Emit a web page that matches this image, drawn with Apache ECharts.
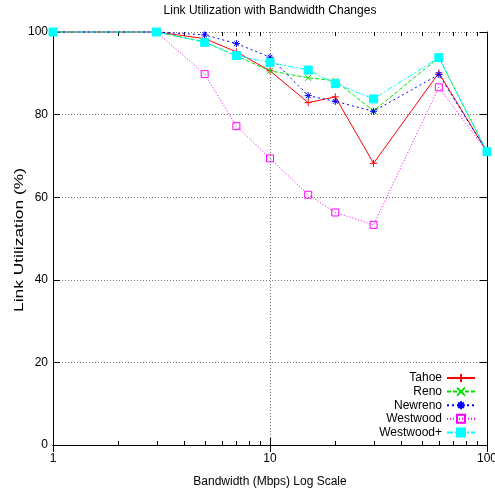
<!DOCTYPE html>
<html>
<head>
<meta charset="utf-8">
<script src="https://cdn.jsdelivr.net/npm/echarts@6/dist/echarts.min.js"></script>
<style>
  html, body { margin: 0; padding: 0; background: #fff; }
  #chart { width: 495px; height: 493px; }
</style>
</head>
<body>
<div id="chart"></div>
<script>
// Bandwidth steps (Mbps) and measured link utilization (%) per TCP variant
const bandwidth = [1, 3, 5, 7, 10, 15, 20, 30, 60, 100];
const tahoe     = [100, 100, 98.4, 95.2, 90.6, 82.9, 84.3, 68.2, 90.1, 71.0];
const reno      = [100, 100, 97.6, 94.2, 90.6, 88.9, 88.2, 80.9, 93.8, 71.0];
const newreno   = [100, 100, 99.3, 97.2, 93.9, 84.6, 83.2, 80.8, 89.7, 71.0];
const westwood  = [100, 100, 89.8, 77.2, 69.4, 60.6, 56.3, 53.3, 86.6, 71.0];
const westwoodP = [100, 100, 97.5, 94.3, 92.6, 90.8, 87.5, 83.8, 93.8, 71.0];

const seriesNames = ['Tahoe', 'Reno', 'Newreno', 'Westwood', 'Westwood+'];
const xMinorTicks = [2, 3, 4, 5, 6, 7, 8, 9, 20, 30, 40, 50, 60, 70, 80, 90];
const yAxisTitle = 'Link Utilization (%)';

const FONT = '"Liberation Sans Narrow", "Liberation Sans", Arial, sans-serif';

// gnuplot-style point shapes
const PLUS     = 'path://M0,5L10,5M5,0L5,10';
const CROSS    = 'path://M0,0L10,10M0,10L10,0';
const STAR     = 'path://M0,5L10,5M5,0L5,10M1.5,1.5L8.5,8.5M1.5,8.5L8.5,1.5';
const OPEN_BOX = 'path://M0,0L10,0L10,10L0,10Z';

const pairs = (ys) => bandwidth.map((x, i) => [x, ys[i]]);

function lineSeries(name, ys, color, dash, symbol, size, fill) {
  return {
    name: name,
    type: 'line',
    data: pairs(ys),
    xAxisIndex: 0,
    yAxisIndex: 0,
    clip: false,
    symbol: symbol,
    symbolSize: size,
    showAllSymbol: true,
    lineStyle: { color: color, width: 1, type: dash },
    itemStyle: { color: fill, borderColor: color, borderWidth: 1 },
    emphasis: { disabled: true },
    animation: false
  };
}

const axisLineStyle = { show: true, lineStyle: { color: '#000', width: 1 } };
const gridLineStyle = { show: true, lineStyle: { color: '#777', width: 1, type: [1, 2] } };

const chart = echarts.init(document.getElementById('chart'), null, { renderer: 'canvas' });

chart.setOption({
  animation: false,
  backgroundColor: '#fff',
  title: {
    text: 'Link Utilization with Bandwidth Changes',
    left: 270,
    top: 5,
    textAlign: 'center',
    padding: 0,
    textStyle: { fontFamily: FONT, fontSize: 12, fontWeight: 'normal', color: '#000' }
  },
  // rotated y-axis title, stretched along its baseline
  graphic: [{
    type: 'text',
    x: 20,
    y: 240,
    rotation: Math.PI / 2,
    scaleX: 1.45,
    silent: true,
    style: {
      text: yAxisTitle,
      fontFamily: '"Liberation Sans", Arial, sans-serif',
      fontSize: 12,
      fill: '#000',
      align: 'center',
      verticalAlign: 'middle'
    }
  }],
  grid: { left: 53, right: 8, top: 32, bottom: 48, containLabel: false, outerBoundsMode: 'none' },
  legend: {
    orient: 'vertical',
    right: 19,
    top: 372,
    align: 'right',
    padding: 0,
    itemWidth: 28,
    itemHeight: 10,
    itemGap: 1.6,
    selectedMode: false,
    data: seriesNames,
    textStyle: { fontFamily: FONT, fontSize: 12, color: '#000', lineHeight: 12 }
  },
  xAxis: [
    {
      type: 'log', logBase: 10, min: 1, max: 100, position: 'bottom',
      name: 'Bandwidth (Mbps) Log Scale', nameLocation: 'middle', nameGap: 31,
      nameTextStyle: { fontFamily: FONT, fontSize: 12, color: '#000' },
      axisLine: axisLineStyle,
      axisTick: { show: true, inside: true, length: 7, lineStyle: { color: '#000' } },
      axisLabel: { color: '#000', fontFamily: FONT, fontSize: 12, margin: 8, showMaxLabel: true, showMinLabel: true },
      splitLine: gridLineStyle
    },
    {
      type: 'log', logBase: 10, min: 1, max: 100, position: 'top',
      axisLine: axisLineStyle,
      axisTick: { show: true, inside: true, length: 7, lineStyle: { color: '#000' } },
      axisLabel: { show: false },
      splitLine: { show: false }
    }
  ],
  yAxis: [
    {
      type: 'value', min: 0, max: 100, interval: 20, position: 'left',
      axisLine: axisLineStyle,
      axisTick: { show: true, inside: true, length: 7, lineStyle: { color: '#000' } },
      axisLabel: { color: '#000', fontFamily: FONT, fontSize: 12, margin: 5 },
      splitLine: gridLineStyle
    },
    {
      type: 'value', min: 0, max: 100, interval: 20, position: 'right',
      axisLine: axisLineStyle,
      axisTick: { show: true, inside: true, length: 7, lineStyle: { color: '#000' } },
      axisLabel: { show: false },
      splitLine: { show: false }
    }
  ],
  series: [
    lineSeries('Tahoe', tahoe, '#ff0000', 'solid', PLUS, 7, '#ff0000'),
    lineSeries('Reno', reno, '#00e000', [4, 2], CROSS, 6, '#00e000'),
    lineSeries('Newreno', newreno, '#0000ff', [2, 3], STAR, 7, '#0000ff'),
    lineSeries('Westwood', westwood, '#ff00ff', [1, 2], OPEN_BOX, 7, 'rgba(0,0,0,0)'),
    lineSeries('Westwood+', westwoodP, '#00ffff', [6, 2, 2, 2], 'rect', 8, '#00ffff'),
    {
      // minor ticks of the logarithmic x axis, on bottom and top edges
      name: 'minorTicks',
      type: 'custom',
      coordinateSystem: 'cartesian2d',
      xAxisIndex: 0,
      yAxisIndex: 0,
      silent: true,
      clip: false,
      data: xMinorTicks.map(v => [v, 0]),
      renderItem: function (params, api) {
        const x = api.value(0);
        const b = api.coord([x, 0]);
        const t = api.coord([x, 100]);
        const px = Math.round(b[0]) + 0.5;
        return {
          type: 'group',
          children: [
            { type: 'line', shape: { x1: px, y1: b[1], x2: px, y2: b[1] - 4 }, style: { stroke: '#000', lineWidth: 1 } },
            { type: 'line', shape: { x1: px, y1: t[1], x2: px, y2: t[1] + 4 }, style: { stroke: '#000', lineWidth: 1 } }
          ]
        };
      }
    }
  ]
});
</script>
</body>
</html>
